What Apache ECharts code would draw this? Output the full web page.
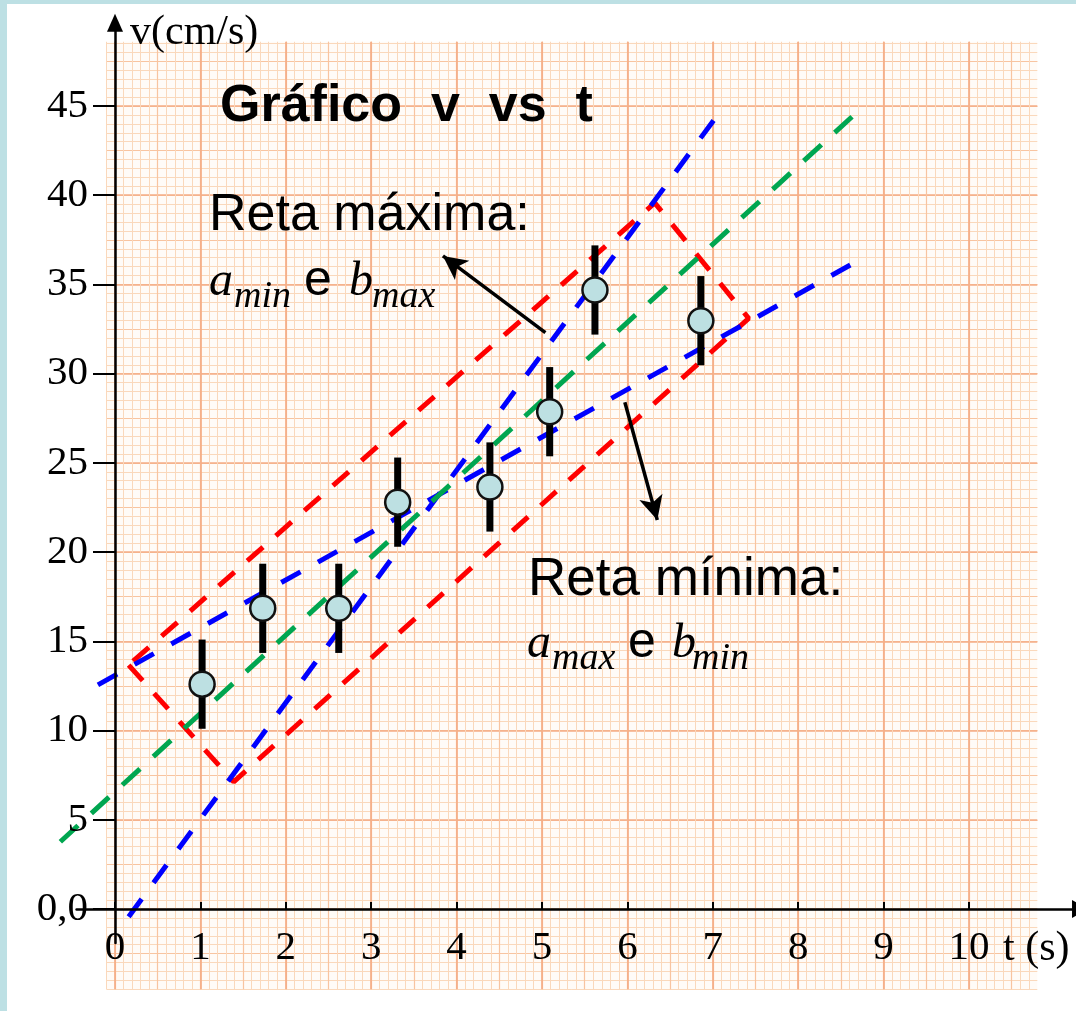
<!DOCTYPE html>
<html lang="pt">

<head>
  <meta charset="utf-8">
</head>

<body style="margin: 0; background: #fff">
  <div id="container" style="width: 1069px; height: 1007px; border-top: 4px solid #bde0e4; border-left: 7px solid #bde0e4; background: #fff"></div>

  <script type="text/javascript" src="https://fastly.jsdelivr.net/npm/echarts@6.0.0/dist/echarts.min.js"></script>

  <script type="text/javascript">
    // measured points: t (s), v (cm/s), error bar half height
    const tValues = [1.02, 1.73, 2.62, 3.31, 4.39, 5.09, 5.62, 6.86];
    const vValues = [12.6, 16.85, 16.85, 22.8, 23.65, 27.87, 34.69, 32.97];
    const vErrors = [2.5, 2.5, 2.5, 2.5, 2.5, 2.5, 2.5, 2.5];

    // straight lines, two ends each
    const bestLine = [[-0.64, 3.77], [8.63, 44.4]];
    const steepLine = [[0.16, -0.43], [7.03, 44.33]];
    const flatLine = [[-0.2, 12.56], [8.61, 36.09]];
    // red box around the points
    const boxCorners = [[0.16, 13.67], [1.39, 7.13], [7.42, 33.1], [6.32, 39.57], [0.16, 13.67]];

    // annotation arrows: from -> to (tip)
    const arrowMax = [[5.04, 32.3], [3.84, 36.6]];
    const arrowMin = [[5.97, 28.4], [6.35, 21.8]];

    const yZeroLabel = '0,0';

    // page layout of the scale (px at t=0 / v=0 and px per unit)
    const OX = 7, OY = 4;
    const W = 1069, H = 1007;
    const X0 = 115, XS = 85.4, Y0 = 909, YS = 17.844;

    function gridBox(xr, yr) {
      const l = X0 + xr[0] * XS - OX;
      const r = X0 + xr[1] * XS - OX;
      const t = Y0 - yr[1] * YS - OY;
      const b = Y0 - yr[0] * YS - OY;
      return { left: l, top: t, width: r - l, height: b - t, outerBoundsMode: 'none', containLabel: false };
    }
    // whole canvas in data units, so the lines are never clipped
    const fullX = [(OX - X0) / XS, (OX + W - X0) / XS];
    const fullY = [(Y0 - OY - H) / YS, (Y0 - OY) / YS];

    const paperX = [-0.1, 10.8];
    const paperY = [-4.5, 48.6];

    const fineColor = '#fad8bb';
    const midColor = '#f8c4a0';
    const majorColor = '#f5ad86';

    function paperAxis(gridIndex, min, max, interval, color, width) {
      return {
        type: 'value', gridIndex: gridIndex, min: min, max: max, interval: interval,
        axisLine: { show: false }, axisTick: { show: false }, axisLabel: { show: false },
        splitLine: { show: color != null, showMaxLine: false, lineStyle: { color: color || '#000', width: width || 1 } }
      };
    }

    var dom = document.getElementById('container');
    var myChart = echarts.init(dom, null, { renderer: 'canvas' });

    const errData = tValues.map((t, i) => [t, vValues[i] - vErrors[i], vValues[i] + vErrors[i]]);
    const pointData = tValues.map((t, i) => [t, vValues[i]]);

    function dashed(data, color, dash) {
      return {
        type: 'line', xAxisIndex: 7, yAxisIndex: 6, data: data, showSymbol: false, symbol: 'none',
        z: 3, silent: true,
        lineStyle: { color: color, width: 5, type: dash, cap: 'butt' }
      };
    }

    const sans = 'Liberation Sans';
    const serif = 'Liberation Serif';

    // text placed by the middle of its line box
    function txt(text, x, yMid, size, family, weight, style) {
      return {
        text: text, left: x - OX, top: yMid - size / 2 - OY, padding: 0, z: 9,
        textStyle: {
          color: '#000', fontSize: size, lineHeight: size, fontFamily: family,
          fontWeight: weight || 'normal', fontStyle: style || 'normal'
        }
      };
    }

    var option = {
      animation: false,
      title: [
        txt('Gráfico  v  vs  t', 220, 107, 52, sans, 'bold'),
        txt('Reta máxima:', 209, 216, 52, sans),
        txt('a', 209, 282, 48, serif, 'normal', 'italic'),
        txt('min', 234, 297, 38, serif, 'normal', 'italic'),
        txt('e', 304, 281, 50, sans),
        txt('b', 349, 282, 48, serif, 'normal', 'italic'),
        txt('max', 372, 297, 38, serif, 'normal', 'italic'),
        txt('Reta mínima:', 528, 580, 53, sans),
        txt('a', 527, 644, 48, serif, 'normal', 'italic'),
        txt('max', 552, 659, 38, serif, 'normal', 'italic'),
        txt('e', 628, 643, 50, sans),
        txt('b', 672, 644, 48, serif, 'normal', 'italic'),
        txt('min', 692, 659, 38, serif, 'normal', 'italic'),
        txt('v(cm/s)', 130, 33, 42, serif),
        txt('t (s)', 1003, 949, 42, serif)
      ],
      grid: [
        Object.assign(gridBox(paperX, paperY), { show: true, backgroundColor: '#fffbf7', borderWidth: 0 }),
        gridBox([0, 10.8], paperY),
        gridBox(paperX, [-2.5, 48.6]),
        gridBox(paperX, [0, 48.6]),
        gridBox([-0.45, 11.3], [-1.9, 49.66]),
        gridBox([0, 10], [0, 45]),
        gridBox(fullX, fullY)
      ],
      xAxis: [
        paperAxis(0, paperX[0], paperX[1], 0.1, fineColor, 1),
        paperAxis(1, 0, 10.8, 0.5, midColor, 1.2),
        paperAxis(1, 0, 10.8, 1, majorColor, 1.7),
        paperAxis(2, paperX[0], paperX[1], 1, null),
        paperAxis(3, paperX[0], paperX[1], 1, null),
        {
          type: 'value', gridIndex: 4, min: -0.45, max: 11.3, z: 4,
          axisLine: { show: true, onZero: true, symbol: ['none', 'triangle'], symbolSize: [18, 16], lineStyle: { color: '#000', width: 2.5 } },
          axisTick: { show: false }, axisLabel: { show: false }, splitLine: { show: false }
        },
        {
          type: 'value', gridIndex: 5, min: 0, max: 10, interval: 1, z: 4,
          axisLine: { show: false },
          axisTick: { show: true, inside: true, length: 7, lineStyle: { color: '#000', width: 2 } },
          axisLabel: { margin: 19, color: '#000', fontFamily: serif, fontSize: 41 },
          splitLine: { show: false }
        },
        { type: 'value', gridIndex: 6, min: fullX[0], max: fullX[1], show: false }
      ],
      yAxis: [
        paperAxis(0, paperY[0], paperY[1], 0.5, fineColor, 1),
        paperAxis(1, paperY[0], paperY[1], 5, null),
        paperAxis(2, -2.5, 48.6, 2.5, midColor, 1.2),
        paperAxis(3, 0, 48.6, 5, majorColor, 1.7),
        {
          type: 'value', gridIndex: 4, min: -1.9, max: 49.66, z: 4,
          axisLine: { show: true, onZero: true, symbol: ['none', 'triangle'], symbolSize: [16, 18], lineStyle: { color: '#000', width: 2.5 } },
          axisTick: { show: false }, axisLabel: { show: false }, splitLine: { show: false }
        },
        {
          type: 'value', gridIndex: 5, min: 0, max: 45, interval: 5, z: 4,
          axisLine: { show: false },
          axisTick: { show: true, length: 22, lineStyle: { color: '#000', width: 2 } },
          axisLabel: {
            margin: 27, color: '#000', fontFamily: serif, fontSize: 41,
            formatter: (v) => (v === 0 ? yZeroLabel : String(v))
          },
          splitLine: { show: false }
        },
        { type: 'value', gridIndex: 6, min: fullY[0], max: fullY[1], show: false }
      ],
      series: [
        dashed(boxCorners, '#ff0000', [21, 17]),
        dashed(flatLine, '#0000ff', [22, 20]),
        dashed(steepLine, '#0000ff', [22, 20]),
        dashed(bestLine, '#00a650', [24, 18]),
        {
          type: 'custom', xAxisIndex: 7, yAxisIndex: 6, data: errData, z: 6, silent: true,
          renderItem: function (params, api) {
            const top = api.coord([api.value(0), api.value(2)]);
            const bot = api.coord([api.value(0), api.value(1)]);
            return {
              type: 'rect',
              shape: { x: top[0] - 3.5, y: top[1], width: 7, height: bot[1] - top[1] },
              style: { fill: '#000' }
            };
          }
        },
        {
          type: 'scatter', xAxisIndex: 7, yAxisIndex: 6, data: pointData, z: 7, silent: true,
          symbolSize: 25,
          itemStyle: { color: '#bde0e2', borderColor: '#111', borderWidth: 2.5, opacity: 1 }
        },
        {
          type: 'line', xAxisIndex: 7, yAxisIndex: 6, data: [], z: 8,
          markLine: {
            silent: true, symbol: ['none', 'arrow'], symbolSize: [18, 24],
            label: { show: false },
            lineStyle: { color: '#000', width: 3.5, type: 'solid' },
            data: [
              [{ coord: arrowMax[0] }, { coord: arrowMax[1] }],
              [{ coord: arrowMin[0] }, { coord: arrowMin[1] }]
            ]
          }
        }
      ]
    };

    if (option && typeof option === 'object') {
      myChart.setOption(option);
    }

    window.addEventListener('resize', myChart.resize);
  </script>
</body>

</html>
